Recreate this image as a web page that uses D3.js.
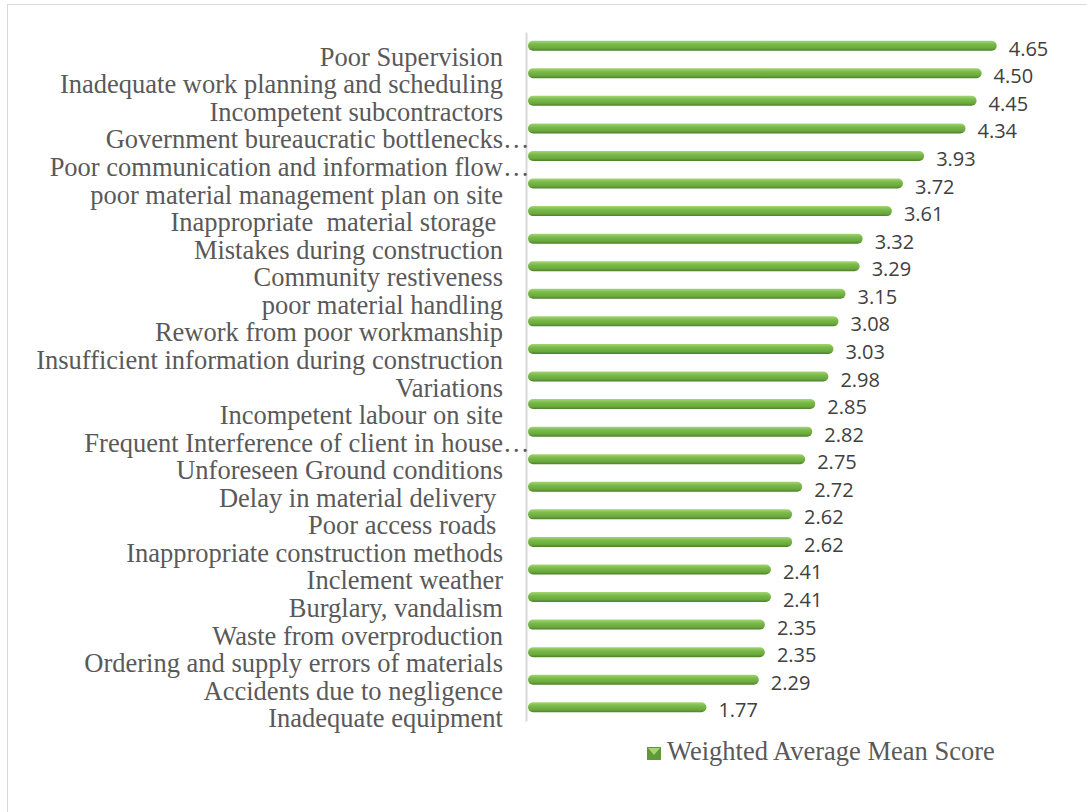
<!DOCTYPE html>
<html>
<head>
<meta charset="utf-8">
<script src="https://cdn.jsdelivr.net/npm/d3@7"></script>
<style>
  body { margin: 0; background: #fff; }
  text { white-space: pre; }
</style>
</head>
<body>
<div class="chart"></div>
<script>
// data, top to bottom as in the chart
const factors = [
  "Poor Supervision",
  "Inadequate work planning and scheduling",
  "Incompetent subcontractors",
  "Government bureaucratic bottlenecks…",
  "Poor communication and information flow…",
  "poor material management plan on site",
  "Inappropriate  material storage ",
  "Mistakes during construction",
  "Community restiveness",
  "poor material handling",
  "Rework from poor workmanship",
  "Insufficient information during construction",
  "Variations",
  "Incompetent labour on site",
  "Frequent Interference of client in house…",
  "Unforeseen Ground conditions",
  "Delay in material delivery ",
  "Poor access roads ",
  "Inappropriate construction methods",
  "Inclement weather",
  "Burglary, vandalism",
  "Waste from overproduction",
  "Ordering and supply errors of materials",
  "Accidents due to negligence",
  "Inadequate equipment"
];
const scores = [4.65, 4.50, 4.45, 4.34, 3.93, 3.72, 3.61, 3.32, 3.29, 3.15, 3.08, 3.03, 2.98,
  2.85, 2.82, 2.75, 2.72, 2.62, 2.62, 2.41, 2.41, 2.35, 2.35, 2.29, 1.77];
const seriesName = "Weighted Average Mean Score";

const W = 1087, H = 812;
const svg = d3.select(".chart").append("svg")
  .attr("width", W)
  .attr("height", H);

// outer frame
svg.append("rect")
  .attr("x", 7.5).attr("y", 4.5)
  .attr("width", W).attr("height", H)
  .attr("fill", "none")
  .attr("stroke", "#d9d9d9")
  .attr("stroke-width", 1);

const defs = svg.append("defs");
const grad = defs.append("linearGradient")
  .attr("id", "cyl")
  .attr("x1", 0).attr("y1", 0).attr("x2", 0).attr("y2", 1);
grad.append("stop").attr("offset", "0%").attr("stop-color", "#a3d673");
grad.append("stop").attr("offset", "35%").attr("stop-color", "#7aba4a");
grad.append("stop").attr("offset", "75%").attr("stop-color", "#6aa83d");
grad.append("stop").attr("offset", "100%").attr("stop-color", "#4a7f2a");

const x = d3.scaleLinear()
  .domain([0, 5])
  .range([528, 1032]);

const y = d3.scaleBand()
  .domain(factors)
  .range([31.9, 721.1])
  .paddingInner(0)
  .paddingOuter(0);

const mid = d => y(d) + y.bandwidth() / 2;
const barH = 10;

// category axis line only
const yAxis = svg.append("g")
  .attr("transform", "translate(526,0)")
  .call(d3.axisLeft(y).tickSize(0).tickFormat(""));
yAxis.select(".domain")
  .attr("stroke", "#d9d9d9")
  .attr("stroke-width", 2);

// bars
svg.selectAll("rect.bar")
  .data(factors)
  .enter()
  .append("rect")
    .attr("class", "bar")
    .attr("x", x(0))
    .attr("y", d => mid(d) - barH / 2)
    .attr("width", (d, i) => x(scores[i]) - x(0))
    .attr("height", barH)
    .attr("rx", 5).attr("ry", 5)
    .attr("fill", "url(#cyl)");

// value labels
svg.selectAll("text.val")
  .data(factors)
  .enter()
  .append("text")
    .attr("class", "val")
    .attr("x", (d, i) => x(scores[i]) + 12)
    .attr("y", d => mid(d) + 10)
    .style("font-family", "'Open Sans', sans-serif")
    .style("font-size", "20px")
    .attr("fill", "#404040")
    .text((d, i) => scores[i].toFixed(2));

// category labels (sit a bit lower than their bars, like the original)
// cut-off labels spill their ellipsis past the label column
const cut = d => d.endsWith("…");
svg.selectAll("text.cat")
  .data(factors)
  .enter()
  .append("text")
    .attr("class", "cat")
    .attr("x", 503)
    .attr("y", d => mid(d) + 20)
    .attr("text-anchor", "end")
    .style("font-family", "'Liberation Serif', 'Times New Roman', serif")
    .style("font-size", "26.5px")
    .attr("fill", "#595959")
    .text(d => cut(d) ? d.slice(0, -1) : d);

svg.selectAll("text.ell")
  .data(factors.filter(cut))
  .enter()
  .append("text")
    .attr("class", "ell")
    .attr("x", 503)
    .attr("y", d => mid(d) + 20)
    .style("font-family", "'Liberation Serif', 'Times New Roman', serif")
    .style("font-size", "26.5px")
    .attr("fill", "#595959")
    .text("\u2026");

// legend
const legend = svg.append("g").attr("transform", "translate(647,747)");
legend.append("rect")
  .attr("width", 14).attr("height", 13)
  .attr("fill", "#5f9a36");
legend.append("path")
  .attr("d", "M1,1 L13,1 L7,8 Z")
  .attr("fill", "#a3d673");
legend.append("text")
  .attr("x", 20)
  .attr("y", 13)
  .style("font-family", "'Liberation Serif', 'Times New Roman', serif")
  .style("font-size", "26.5px")
  .attr("fill", "#595959")
  .text(seriesName);
</script>
</body>
</html>
